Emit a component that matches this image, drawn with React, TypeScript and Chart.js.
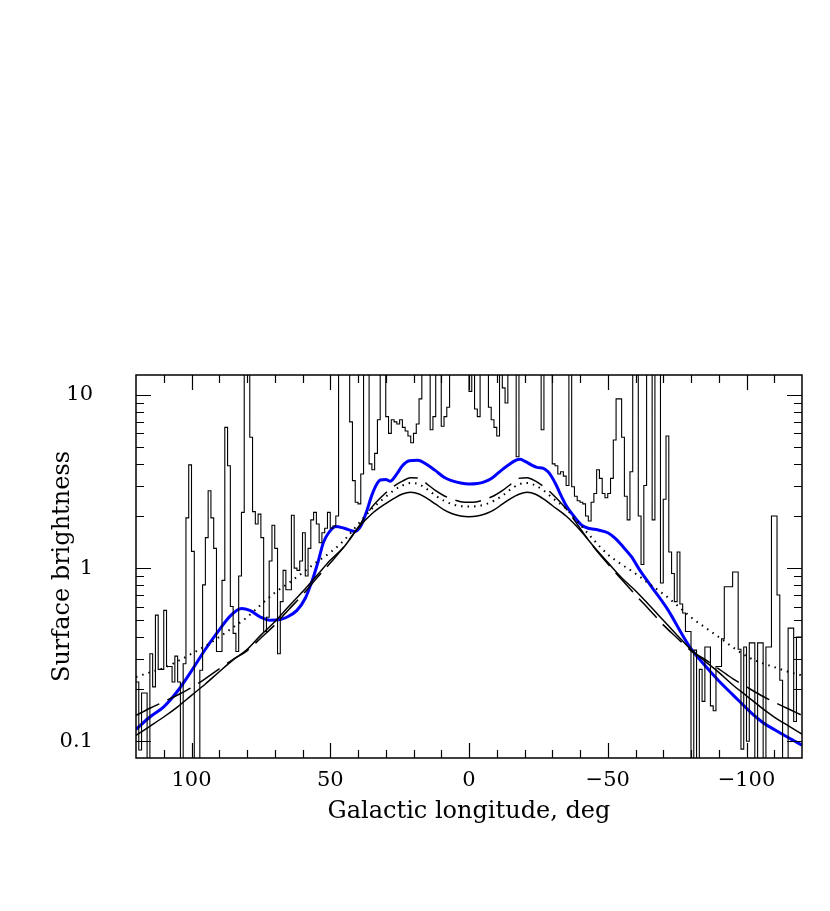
import React, { useEffect, useRef } from 'react';
import { Chart, registerables } from 'chart.js';

Chart.register(...registerables);

// Axis ranges and tick labels
const X_MIN = -120;
const X_MAX = 120;
const Y_MIN = 0.08;
const Y_MAX = 13.05;
const xMajorTicks = [100, 50, 0, -50, -100];
const yMajorTicks = [0.1, 1, 10];

// Observed surface brightness histogram: 1-degree bins from l = 120 down to l = -120
const histStart = 120;
const histBinWidth = 1;
const histValues = [
  0.22, 0.089, 0.19, 0.19, 0.05, 0.32, 0.206, 0.535, 0.26, 0.26,
  0.57, 0.27, 0.27, 0.22, 0.31, 0.22, 0.05, 0.28, 1.95, 3.95,
  1.25, 0.05, 0.05, 0.257, 0.8, 1.5, 2.8, 1.95, 1.3, 0.33,
  0.33, 0.85, 6.5, 3.9, 0.6, 0.42, 0.33, 0.9, 2.1, 20,
  20, 5.7, 2.12, 1.8, 2.05, 1.5, 0.43, 0.52, 1.1, 1.77,
  1.3, 0.32, 0.64, 0.97, 0.75, 0.75, 2.02, 1.0, 0.97, 1.1,
  1.6, 0.9, 1.3, 1.9, 2.1, 1.8, 1.4, 1.6, 1.7, 2.1,
  1.7, 1.75, 2.0, 20, 20, 20, 20, 7.0, 3.2, 2.4,
  2.35, 3.5, 20, 20, 4.0, 3.7, 4.6, 7.2, 20, 20,
  7.5, 6.0, 7.2, 7.0, 6.8, 7.2, 6.5, 6.2, 5.8, 5.3,
  6.0, 6.8, 9.5, 20, 20, 20, 6.3, 7.5, 20, 20,
  6.6, 7.5, 8.5, 20, 20, 20, 20, 20, 20, 20,
  10.5, 20, 8.3, 7.5, 20, 20, 20, 8.5, 7.2, 6.5,
  5.8, 20, 11, 9, 20, 20, 20, 4.4, 20, 20,
  20, 20, 20, 20, 20, 20, 6.3, 20, 20, 20,
  4.0, 3.9, 3.5, 3.6, 3.4, 3.0, 20, 2.95, 2.6, 2.45,
  2.4, 2.35, 2.0, 1.87, 2.4, 2.7, 3.7, 3.3, 2.7, 2.55,
  2.7, 3.3, 5.5, 9.5, 9.5, 5.7, 2.6, 1.9, 3.6, 20,
  20, 2.0, 1.05, 3.0, 20, 20, 1.9, 20, 20, 0.82,
  2.5, 5.8, 1.24, 0.93, 0.64, 1.24, 0.62, 0.55, 0.43, 0.43,
  0.05, 0.336, 0.05, 0.26, 0.17, 0.35, 0.35, 0.16, 0.15, 0.27,
  0.27, 0.39, 0.78, 0.78, 0.78, 0.95, 0.95, 0.34, 0.09, 0.35,
  0.1, 0.37, 0.37, 0.05, 0.37, 0.37, 0.05, 0.35, 0.35, 2.0,
  2.0, 0.7, 0.225, 0.05, 0.05, 0.45, 0.45, 0.13, 0.40, 0.40,
];

// Model profiles (black curves)
const modelLon = [
  120, 115, 110, 105, 100, 95, 90, 85, 80, 75, 70, 65, 60, 55, 50, 45, 40, 35, 30, 27, 24, 21, 18, 15, 12, 9, 6, 3, 0,
  -3, -6, -9, -12, -15, -18, -21, -24, -27, -30, -35, -40, -45, -50, -55, -60, -65, -70, -75, -80, -85, -90, -95, -100, -105, -110, -115, -120,
];
const solidValues = [
  0.108, 0.122, 0.138, 0.158, 0.184, 0.214, 0.252, 0.295, 0.338, 0.41, 0.49, 0.6, 0.73, 0.9, 1.11, 1.33, 1.7, 2.06, 2.36, 2.53, 2.68, 2.74, 2.68, 2.52, 2.34, 2.17, 2.06, 2.0, 1.98,
  2.0, 2.06, 2.17, 2.34, 2.52, 2.67, 2.74, 2.67, 2.5, 2.3, 2.0, 1.66, 1.33, 1.08, 0.88, 0.74, 0.61, 0.5, 0.41, 0.338, 0.29, 0.25, 0.212, 0.183, 0.158, 0.138, 0.123, 0.11,
];
const dashedValues = [
  0.141, 0.155, 0.169, 0.185, 0.204, 0.23, 0.262, 0.297, 0.333, 0.395, 0.47, 0.575, 0.7, 0.87, 1.07, 1.33, 1.72, 2.25, 2.72, 2.98, 3.18, 3.33, 3.3, 3.05, 2.8, 2.62, 2.5, 2.42, 2.4,
  2.42, 2.5, 2.62, 2.8, 3.05, 3.3, 3.33, 3.18, 2.95, 2.68, 2.2, 1.7, 1.32, 1.06, 0.86, 0.7, 0.575, 0.47, 0.395, 0.333, 0.297, 0.262, 0.23, 0.206, 0.185, 0.168, 0.154, 0.141,
];
const dottedValues = [
  0.235, 0.25, 0.265, 0.29, 0.32, 0.355, 0.40, 0.455, 0.52, 0.615, 0.72, 0.82, 0.94, 1.08, 1.23, 1.45, 1.79, 2.2, 2.58, 2.82, 3.0, 3.1, 3.05, 2.85, 2.62, 2.45, 2.34, 2.28, 2.27,
  2.28, 2.34, 2.45, 2.62, 2.85, 3.05, 3.1, 3.0, 2.8, 2.55, 2.2, 1.79, 1.45, 1.2, 1.05, 0.93, 0.81, 0.71, 0.61, 0.52, 0.455, 0.40, 0.35, 0.31, 0.285, 0.268, 0.252, 0.24,
];

// Best-fit model (blue curve)
const blueLon = [
  120, 115, 110, 105, 100, 95, 90, 86, 82, 79, 75, 71.7, 68, 65.7, 62, 59, 56.7, 54.3, 52.5, 50.7, 48, 45, 41, 39, 37, 35, 33, 32, 30, 28.5, 26, 24, 21.5, 18.5, 15, 12.3, 9, 6.3, 3, 0,
  -3, -5.5, -8.2, -11, -14.2, -17, -18.4, -20, -22.6, -24.5, -26.8, -28.5, -29.8, -31.5, -33.4, -35, -37, -40.6, -43, -46.6, -50, -52.6, -55.5, -58.6, -61.6, -65.8, -71.8, -75.5, -79.6, -84.5, -89.8, -95, -101.9, -106, -110.3, -115, -120,
];
const blueValues = [
  0.117, 0.138, 0.158, 0.195, 0.255, 0.34, 0.44, 0.53, 0.585, 0.57, 0.52, 0.5, 0.505, 0.52, 0.57, 0.67, 0.83, 1.1, 1.4, 1.59, 1.74, 1.7, 1.63, 1.75, 2.1, 2.64, 3.1, 3.23, 3.25, 3.18, 3.5, 3.9, 4.17, 4.2, 3.95, 3.68, 3.35, 3.2, 3.1, 3.06,
  3.08, 3.15, 3.3, 3.6, 3.94, 4.2, 4.25, 4.15, 3.94, 3.82, 3.77, 3.6, 3.37, 3.0, 2.58, 2.3, 2.07, 1.77, 1.7, 1.66, 1.6, 1.49, 1.33, 1.16, 0.97, 0.78, 0.57, 0.45, 0.35, 0.28, 0.225, 0.186, 0.145, 0.128, 0.116, 0.105, 0.095,
];

const FONT = '"DejaVu Serif", serif';

const fmtX = (v: number) => (v < 0 ? '\u2212' + Math.abs(v) : String(v));

const framePlugin = {
  id: 'frameTicks',
  afterDraw(chart: any) {
    const { ctx, chartArea } = chart;
    const { left, right, top, bottom } = chartArea;
    const xs = chart.scales.x;
    const ys = chart.scales.y;
    ctx.save();
    ctx.strokeStyle = '#000';
    ctx.lineWidth = 1.2;
    ctx.beginPath();
    for (let v = X_MIN + 10; v < X_MAX; v += 10) {
      const px = Math.round(xs.getPixelForValue(v)) + 0.5;
      const len = v % 50 === 0 ? 15 : 8;
      ctx.moveTo(px, bottom);
      ctx.lineTo(px, bottom - len);
      ctx.moveTo(px, top);
      ctx.lineTo(px, top + len);
    }
    for (const dec of [0.1, 1]) {
      for (let m = 1; m <= 9; m++) {
        const v = dec * m;
        const py = Math.round(ys.getPixelForValue(v)) + 0.5;
        const len = m === 1 ? 15 : 8;
        ctx.moveTo(left, py);
        ctx.lineTo(left + len, py);
        ctx.moveTo(right, py);
        ctx.lineTo(right - len, py);
      }
    }
    {
      const py = Math.round(ys.getPixelForValue(10)) + 0.5;
      ctx.moveTo(left, py);
      ctx.lineTo(left + 15, py);
      ctx.moveTo(right, py);
      ctx.lineTo(right - 15, py);
    }
    ctx.stroke();
    ctx.lineWidth = 1.5;
    ctx.strokeRect(left, top, right - left, bottom - top);
    ctx.restore();
  },
};

export default function App() {
  const canvasRef = useRef<HTMLCanvasElement | null>(null);

  useEffect(() => {
    const canvas = canvasRef.current;
    if (!canvas) return;
    const histPts = histValues.map((v, i) => ({ x: histStart - histBinWidth * (i + 0.5), y: v }));
    // extend first/last bins to the plot edges
    const histData = [
      { x: histStart, y: histValues[0] },
      ...histPts,
      { x: histStart - histBinWidth * histValues.length, y: histValues[histValues.length - 1] },
    ];
    const toPts = (lon: number[], vals: number[]) => lon.map((l, i) => ({ x: l, y: vals[i] }));

    const chart = new Chart(canvas, {
      type: 'line',
      data: {
        datasets: [
          {
            label: 'Observed',
            data: histData,
            stepped: 'middle',
            borderColor: '#000',
            borderWidth: 1.1,
            pointRadius: 0,
            fill: false,
          },
          {
            label: 'Model A',
            data: toPts(modelLon, solidValues),
            borderColor: '#000',
            borderWidth: 1.5,
            pointRadius: 0,
            cubicInterpolationMode: 'monotone',
            fill: false,
          },
          {
            label: 'Model B',
            data: toPts(modelLon, dashedValues),
            borderColor: '#000',
            borderWidth: 1.5,
            borderDash: [26, 9],
            pointRadius: 0,
            cubicInterpolationMode: 'monotone',
            fill: false,
          },
          {
            label: 'Model C',
            data: toPts(modelLon, dottedValues),
            borderColor: '#000',
            borderWidth: 2,
            borderDash: [1.5, 5],
            pointRadius: 0,
            cubicInterpolationMode: 'monotone',
            fill: false,
          },
          {
            label: 'Fit',
            data: toPts(blueLon, blueValues),
            borderColor: '#0000ff',
            borderWidth: 3,
            pointRadius: 0,
            cubicInterpolationMode: 'monotone',
            fill: false,
          },
        ],
      },
      options: {
        animation: false,
        responsive: false,
        events: [],
        layout: { padding: { top: 375, right: 28, left: 0, bottom: 0 } },
        plugins: { legend: { display: false }, tooltip: { enabled: false } },
        scales: {
          x: {
            type: 'linear',
            min: X_MIN,
            max: X_MAX,
            reverse: true,
            grid: { display: false, drawTicks: false },
            border: { display: false },
            afterBuildTicks: (s: any) => {
              s.ticks = xMajorTicks.map((v) => ({ value: v }));
            },
            afterFit: (s: any) => {
              s.height = 153;
            },
            ticks: {
              color: '#000',
              padding: 10,
              maxRotation: 0,
              autoSkip: false,
              font: { family: FONT, size: 21 },
              callback: (v: any) => fmtX(Number(v)),
            },
            title: {
              display: true,
              text: 'Galactic longitude, deg',
              color: '#000',
              font: { family: FONT, size: 24 },
              padding: 85,
            },
          },
          y: {
            type: 'logarithmic',
            min: Y_MIN,
            max: Y_MAX,
            grid: { display: false, drawTicks: false },
            border: { display: false },
            afterBuildTicks: (s: any) => {
              s.ticks = yMajorTicks.map((v) => ({ value: v }));
            },
            afterFit: (s: any) => {
              s.width = 136;
            },
            ticks: {
              color: '#000',
              padding: 43,
              font: { family: FONT, size: 21 },
              callback: (v: any) => String(Number(v)),
            },
            title: {
              display: true,
              text: 'Surface brightness',
              color: '#000',
              font: { family: FONT, size: 24 },
              padding: 48,
            },
          },
        },
      },
      plugins: [framePlugin],
    } as any);

    return () => chart.destroy();
  }, []);

  return (
    <div style={{ position: 'absolute', left: 0, top: 0, width: 830, height: 911, background: '#fff' }}>
      <canvas ref={canvasRef} width={830} height={911} style={{ display: 'block' }} />
    </div>
  );
}
